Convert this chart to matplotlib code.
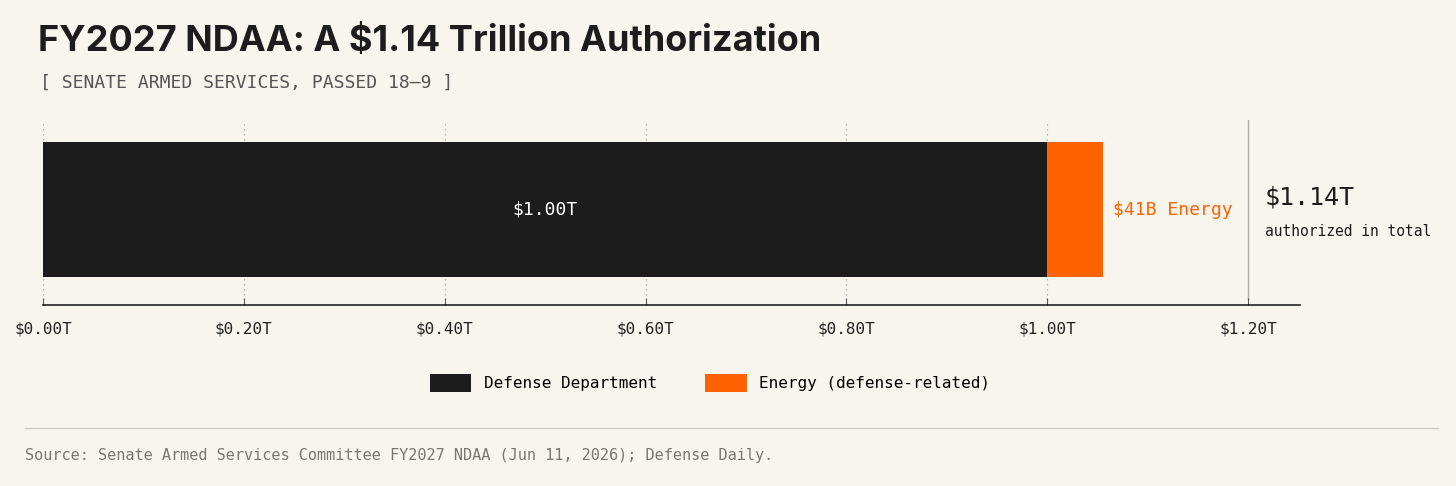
import matplotlib
matplotlib.use("Agg")
import matplotlib.pyplot as plt
from matplotlib.patches import Patch
from matplotlib.lines import Line2D

categories = ["Defense Department", "Energy (defense-related)"]
values_t = [1.00, 0.056]
colors = ["#1c1c1c", "#ff6200"]
total_t = 1.14
ticks = [0.0, 0.2, 0.4, 0.6, 0.8, 1.0, 1.2]
tick_labels = [f"${t:.2f}T" for t in ticks]

BG = "#f8f5ef"
MONO = "DejaVu Sans Mono"
fig = plt.figure(figsize=(14.56, 4.86), dpi=100, facecolor=BG)
ax = fig.add_axes([43/1456, 1-305/486, (1300-43)/1456, 185/486], facecolor=BG)

left = 0
for v, c in zip(values_t, colors):
    ax.barh(0.516, v, left=left, height=0.73, color=c, zorder=3)
    left += v
ax.set_xlim(0, 1.2*1257/1205)
ax.set_ylim(0, 1)
for t in ticks[1:]:
    if abs(t-1.2) < 1e-9:
        ax.axvline(t, color="#b0aca4", lw=1, ymin=0.03, zorder=1)
    else:
        ax.axvline(t, color="#a9a59d", lw=0.9, ls=(0, (1, 3)), zorder=1)
ax.axvline(0, color="#a9a59d", lw=0.9, ls=(0, (1, 3)), zorder=1)
for s in ["top", "right", "left"]:
    ax.spines[s].set_visible(False)
ax.spines["bottom"].set_color("#222222")
ax.spines["bottom"].set_linewidth(1.2)
ax.set_yticks([])
ax.set_xticks(ticks)
ax.set_xticklabels(tick_labels, fontfamily=MONO, fontsize=11.5, color="#222222")
ax.tick_params(axis="x", direction="in", length=5, color="#555555", pad=12)

ax.text(values_t[0]/2, 0.516, f"${values_t[0]:.2f}T", ha="center", va="center",
        color="white", fontfamily=MONO, fontsize=13, zorder=4)
ax.text(sum(values_t)+0.01, 0.516, "$41B Energy", ha="left", va="center",
        color=colors[1], fontfamily=MONO, fontsize=13)
ax.text(1.217, 0.58, f"${total_t:.2f}T", ha="left", va="center",
        color="#1c1c1c", fontfamily=MONO, fontsize=18)
ax.text(1.217, 0.40, "authorized in total", ha="left", va="center",
        color="#1c1c1c", fontfamily=MONO, fontsize=10.5)

fig.text(38/1456, 1-42/486, "FY2027 NDAA: A $1.14 Trillion Authorization", ha="left",
         va="center", fontfamily="Inter", fontweight="bold", fontsize=26, color="#1c1c1c")
fig.text(40/1456, 1-83/486, "[ SENATE ARMED SERVICES, PASSED 18–9 ]", ha="left",
         va="center", fontfamily=MONO, fontsize=13, color="#555555")

handles = [Patch(facecolor=c, label=l) for c, l in zip(colors, categories)]
leg = fig.legend(handles=handles, loc="center", bbox_to_anchor=(710/1456, 1-383/486), ncol=2,
                 frameon=False, handlelength=2.6, handleheight=1.3, columnspacing=3,
                 prop={"family": MONO, "size": 11.5})
fig.add_artist(Line2D([25/1456, 1438/1456], [1-428/486]*2, color="#cfcbc3", lw=1))
fig.text(25/1456, 1-455/486,
         "Source: Senate Armed Services Committee FY2027 NDAA (Jun 11, 2026); Defense Daily.",
         ha="left", va="center", fontfamily=MONO, fontsize=11, color="#7a7670")

fig.savefig("out.png", dpi=100, facecolor=BG)
